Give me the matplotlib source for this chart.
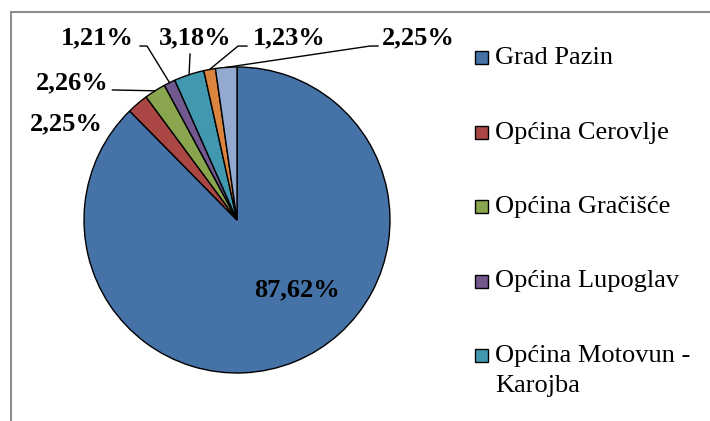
import numpy as np
import matplotlib
matplotlib.use("Agg")
import matplotlib.pyplot as plt
from matplotlib.patches import Rectangle

plt.rcParams['font.family'] = ['Liberation Serif', 'DejaVu Serif']

# data
names = ["Grad Pazin", "Općina Cerovlje", "Općina Gračišće", "Općina Lupoglav",
         "Općina Motovun -\nKarojba", "Općina Sveti Petar u Šumi", "Općina Tinjan"]
shares = [87.62, 2.25, 2.26, 1.21, 3.18, 1.23, 2.25]
labels = ["87,62%", "2,25%", "2,26%", "1,21%", "3,18%", "1,23%", "2,25%"]
colors = ["#4572A7", "#AA4643", "#89A54E", "#71588F", "#4198AF", "#DB843D", "#93A9CF"]

W, H = 710, 421
fig = plt.figure(figsize=(W / 100, H / 100), dpi=100)

# outer frame (cropped on right/bottom)
fig.patches.append(Rectangle((11 / W, -0.2), 1.2, (H - 12) / H + 0.2, transform=fig.transFigure,
                             fill=False, edgecolor="#8c8c8c", linewidth=1.5))

# pie axes: centre (237,220) px, radius 153 px
cx, cy, r = 237, 220, 153
ax = fig.add_axes([(cx - r) / W, (H - cy - r) / H, 2 * r / W, 2 * r / H])
wedges, _ = ax.pie(shares, colors=colors, startangle=90, counterclock=False,
                   wedgeprops=dict(edgecolor="black", linewidth=1.0))
ax.set_xlim(-1, 1)
ax.set_ylim(-1, 1)
ax.set_aspect("equal")
ax.axis("off")

# label positions (data coords) and leader line bends
text_pos = [(0.392, -0.458), (-1.118, 0.627), (-1.078, 0.895), (-0.915, 1.19),
            (-0.275, 1.19), (0.34, 1.19), (1.183, 1.19)]
leaders = [None, None, [(-0.814, 0.850)], [(-0.588, 1.137), (-0.634, 1.137)],
           [(-0.307, 1.085)], [(0.007, 1.137), (0.065, 1.137)],
           [(0.869, 1.137), (0.922, 1.137)]]

for w, lab, pos, lead in zip(wedges, labels, text_pos, leaders):
    ax.text(pos[0], pos[1], lab, ha="center", va="center", fontsize=19,
            fontweight="bold", clip_on=False)
    if lead:
        ang = np.deg2rad((w.theta1 + w.theta2) / 2)
        xs = [np.cos(ang)] + [p[0] for p in lead]
        ys = [np.sin(ang)] + [p[1] for p in lead]
        ax.plot(xs, ys, color="black", linewidth=1.0, clip_on=False)

# legend drawn by hand, entries spaced 74.5 px; the last ones fall below the crop
for i, (nm, c) in enumerate(zip(names, colors)):
    yc = 57 + i * 74.5
    if yc > H - 20:
        break
    fig.patches.append(Rectangle((475 / W, (H - yc - 7) / H), 13 / W, 13 / H,
                                 transform=fig.transFigure, facecolor=c,
                                 edgecolor="black", linewidth=1.0))
    fig.text(495 / W, (H - yc + 10) / H, nm, ha="left", va="top", fontsize=19,
             linespacing=1.45)

fig.savefig("out.png", dpi=100)
